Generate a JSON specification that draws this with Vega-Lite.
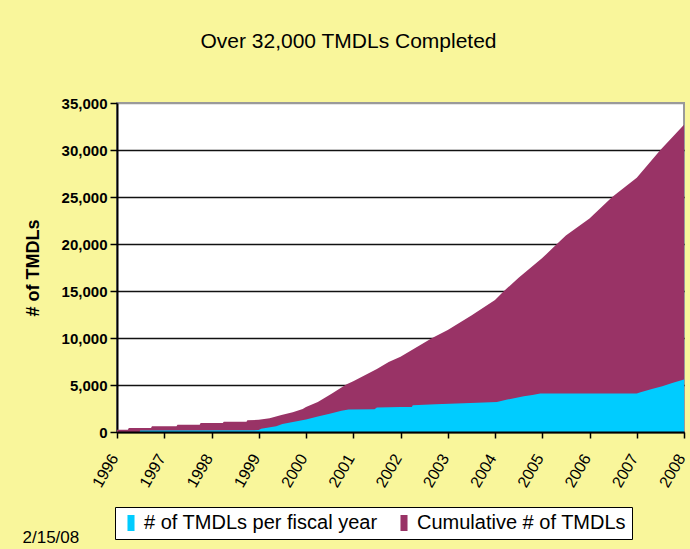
{
  "$schema": "https://vega.github.io/schema/vega-lite/v6.json",
  "width": 567,
  "height": 329,
  "autosize": {"type": "none"},
  "padding": {"left": 117, "top": 103, "right": 6, "bottom": 117},
  "background": "#F9F69B",
  "config": {
    "font": "Liberation Sans",
    "view": {"fill": "white", "stroke": "#9a9a9a", "strokeWidth": 2}
  },
  "title": {
    "text": "Over 32,000 TMDLs Completed",
    "fontSize": 21,
    "fontWeight": "normal",
    "font": "Liberation Sans",
    "color": "black",
    "anchor": "middle",
    "frame": "group",
    "dx": -52,
    "offset": 44
  },
  "data": {
    "values": [
      {"year": 1996.00, "series": "Cumulative # of TMDLs", "value": 250},
      {"year": 1996.23, "series": "Cumulative # of TMDLs", "value": 250},
      {"year": 1996.25, "series": "Cumulative # of TMDLs", "value": 430},
      {"year": 1996.72, "series": "Cumulative # of TMDLs", "value": 430},
      {"year": 1996.74, "series": "Cumulative # of TMDLs", "value": 610},
      {"year": 1997.26, "series": "Cumulative # of TMDLs", "value": 610},
      {"year": 1997.28, "series": "Cumulative # of TMDLs", "value": 780},
      {"year": 1997.75, "series": "Cumulative # of TMDLs", "value": 780},
      {"year": 1997.77, "series": "Cumulative # of TMDLs", "value": 960},
      {"year": 1998.24, "series": "Cumulative # of TMDLs", "value": 960},
      {"year": 1998.26, "series": "Cumulative # of TMDLs", "value": 1100},
      {"year": 1998.74, "series": "Cumulative # of TMDLs", "value": 1100},
      {"year": 1998.76, "series": "Cumulative # of TMDLs", "value": 1250},
      {"year": 1999.00, "series": "Cumulative # of TMDLs", "value": 1300},
      {"year": 1999.23, "series": "Cumulative # of TMDLs", "value": 1450},
      {"year": 1999.48, "series": "Cumulative # of TMDLs", "value": 1800},
      {"year": 1999.72, "series": "Cumulative # of TMDLs", "value": 2100},
      {"year": 1999.93, "series": "Cumulative # of TMDLs", "value": 2450},
      {"year": 2000.00, "series": "Cumulative # of TMDLs", "value": 2660},
      {"year": 2000.25, "series": "Cumulative # of TMDLs", "value": 3200},
      {"year": 2000.55, "series": "Cumulative # of TMDLs", "value": 4100},
      {"year": 2000.85, "series": "Cumulative # of TMDLs", "value": 5050},
      {"year": 2001.00, "series": "Cumulative # of TMDLs", "value": 5400},
      {"year": 2001.50, "series": "Cumulative # of TMDLs", "value": 6700},
      {"year": 2001.75, "series": "Cumulative # of TMDLs", "value": 7460},
      {"year": 2002.00, "series": "Cumulative # of TMDLs", "value": 8000},
      {"year": 2002.67, "series": "Cumulative # of TMDLs", "value": 10000},
      {"year": 2003.00, "series": "Cumulative # of TMDLs", "value": 10840},
      {"year": 2003.50, "series": "Cumulative # of TMDLs", "value": 12400},
      {"year": 2004.00, "series": "Cumulative # of TMDLs", "value": 14040},
      {"year": 2004.19, "series": "Cumulative # of TMDLs", "value": 15000},
      {"year": 2004.50, "series": "Cumulative # of TMDLs", "value": 16400},
      {"year": 2005.00, "series": "Cumulative # of TMDLs", "value": 18500},
      {"year": 2005.31, "series": "Cumulative # of TMDLs", "value": 20000},
      {"year": 2005.50, "series": "Cumulative # of TMDLs", "value": 20900},
      {"year": 2006.00, "series": "Cumulative # of TMDLs", "value": 22700},
      {"year": 2006.48, "series": "Cumulative # of TMDLs", "value": 25000},
      {"year": 2007.00, "series": "Cumulative # of TMDLs", "value": 27050},
      {"year": 2007.50, "series": "Cumulative # of TMDLs", "value": 30000},
      {"year": 2008.00, "series": "Cumulative # of TMDLs", "value": 32690},

      {"year": 1996.00, "series": "# of TMDLs per fiscal year", "value": 0},
      {"year": 1996.48, "series": "# of TMDLs per fiscal year", "value": 0},
      {"year": 1996.49, "series": "# of TMDLs per fiscal year", "value": 150},
      {"year": 1999.00, "series": "# of TMDLs per fiscal year", "value": 200},
      {"year": 1999.05, "series": "# of TMDLs per fiscal year", "value": 350},
      {"year": 1999.37, "series": "# of TMDLs per fiscal year", "value": 600},
      {"year": 1999.50, "series": "# of TMDLs per fiscal year", "value": 850},
      {"year": 1999.75, "series": "# of TMDLs per fiscal year", "value": 1100},
      {"year": 2000.00, "series": "# of TMDLs per fiscal year", "value": 1320},
      {"year": 2000.25, "series": "# of TMDLs per fiscal year", "value": 1650},
      {"year": 2000.50, "series": "# of TMDLs per fiscal year", "value": 1950},
      {"year": 2000.75, "series": "# of TMDLs per fiscal year", "value": 2250},
      {"year": 2000.90, "series": "# of TMDLs per fiscal year", "value": 2400},
      {"year": 2001.45, "series": "# of TMDLs per fiscal year", "value": 2420},
      {"year": 2001.50, "series": "# of TMDLs per fiscal year", "value": 2600},
      {"year": 2002.00, "series": "# of TMDLs per fiscal year", "value": 2665},
      {"year": 2002.24, "series": "# of TMDLs per fiscal year", "value": 2665},
      {"year": 2002.26, "series": "# of TMDLs per fiscal year", "value": 2846},
      {"year": 2002.74, "series": "# of TMDLs per fiscal year", "value": 2950},
      {"year": 2003.48, "series": "# of TMDLs per fiscal year", "value": 3090},
      {"year": 2004.04, "series": "# of TMDLs per fiscal year", "value": 3200},
      {"year": 2004.26, "series": "# of TMDLs per fiscal year", "value": 3450},
      {"year": 2004.43, "series": "# of TMDLs per fiscal year", "value": 3620},
      {"year": 2004.61, "series": "# of TMDLs per fiscal year", "value": 3800},
      {"year": 2004.79, "series": "# of TMDLs per fiscal year", "value": 3940},
      {"year": 2004.96, "series": "# of TMDLs per fiscal year", "value": 4090},
      {"year": 2007.00, "series": "# of TMDLs per fiscal year", "value": 4090},
      {"year": 2007.08, "series": "# of TMDLs per fiscal year", "value": 4230},
      {"year": 2007.32, "series": "# of TMDLs per fiscal year", "value": 4580},
      {"year": 2007.54, "series": "# of TMDLs per fiscal year", "value": 4870},
      {"year": 2007.75, "series": "# of TMDLs per fiscal year", "value": 5220},
      {"year": 2008.00, "series": "# of TMDLs per fiscal year", "value": 5585}
    ]
  },
  "encoding": {
    "x": {
      "field": "year",
      "type": "quantitative",
      "scale": {"domain": [1996, 2008], "nice": false, "zero": false},
      "axis": {
        "values": [1996, 1997, 1998, 1999, 2000, 2001, 2002, 2003, 2004, 2005, 2006, 2007, 2008],
        "format": "d",
        "labelAngle": -60,
        "labelFontSize": 16,
        "labelColor": "black",
        "labelPadding": 17,
        "labelOffset": -3,
        "labelFlush": false,
        "labelOverlap": false,
        "tickSize": 6,
        "tickColor": "black",
        "tickWidth": 1.5,
        "domainColor": "black",
        "domainWidth": 2,
        "grid": false,
        "zindex": 1,
        "title": "2/15/08",
        "titleX": -95,
        "titleY": 110,
        "titleAlign": "left",
        "titleBaseline": "alphabetic",
        "titleFontSize": 17,
        "titleFontWeight": "normal",
        "titleColor": "black"
      }
    },
    "y": {
      "field": "value",
      "type": "quantitative",
      "stack": null,
      "scale": {"domain": [0, 35000], "nice": false},
      "axis": {
        "values": [0, 5000, 10000, 15000, 20000, 25000, 30000, 35000],
        "format": ",.0f",
        "title": "# of TMDLs",
        "titleFontSize": 18,
        "titleFontWeight": "bold",
        "titleColor": "black",
        "titleX": -75,
        "labelFontSize": 15,
        "labelFontWeight": "bold",
        "labelColor": "black",
        "labelPadding": 3,
        "tickSize": 7,
        "tickColor": "black",
        "tickWidth": 1.5,
        "domainColor": "black",
        "domainWidth": 2,
        "gridColor": {"condition": {"test": "datum.value === 35000", "value": "#9a9a9a"}, "value": "#111111"},
        "gridWidth": 1.5
      }
    },
    "color": {
      "field": "series",
      "type": "nominal",
      "scale": {
        "domain": ["# of TMDLs per fiscal year", "Cumulative # of TMDLs"],
        "range": ["#00CCFF", "#993366"]
      },
      "legend": {
        "orient": "none",
        "legendX": -2,
        "legendY": 404,
        "direction": "horizontal",
        "title": null,
        "fillColor": "white",
        "strokeColor": "black",
        "padding": 6,
        "symbolType": "M-0.44,-1L0.44,-1L0.44,1L-0.44,1Z",
        "symbolSize": 256,
        "symbolOffset": 0,
        "symbolStrokeWidth": 0,
        "symbolOpacity": 1,
        "labelFontSize": 20,
        "labelColor": "black",
        "labelOffset": 3,
        "labelLimit": 400,
        "columnPadding": 16
      }
    }
  },
  "layer": [
    {
      "transform": [{"filter": "datum.series === 'Cumulative # of TMDLs'"}],
      "mark": {"type": "area", "opacity": 1}
    },
    {
      "transform": [{"filter": "datum.series === '# of TMDLs per fiscal year'"}],
      "mark": {"type": "area", "opacity": 1}
    }
  ]
}
